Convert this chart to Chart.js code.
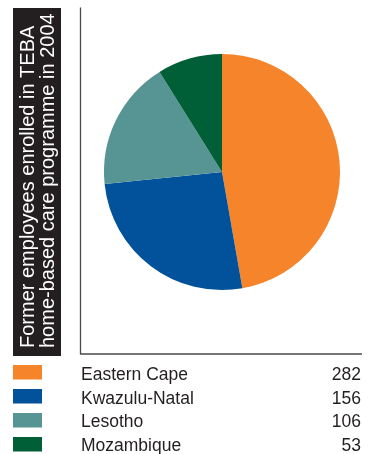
<!DOCTYPE html>
<html>
<head>
<meta charset="utf-8">
<script src="https://cdn.jsdelivr.net/npm/chart.js@4"></script>
<style>
  html, body { margin: 0; padding: 0; background: #fff; }
  #wrap { position: relative; width: 372px; height: 454px; }
</style>
</head>
<body>
<div id="wrap"><canvas id="tebaChart"></canvas></div>
<script>
// TEBA home-based care enrolment, 2004
const regions = ['Eastern Cape', 'Kwazulu-Natal', 'Lesotho', 'Mozambique'];
const enrolled = [282, 156, 106, 53];
const sliceColors = ['#f5842a', '#01529b', '#579494', '#015f38'];
const titleLines = ['Former employees enrolled in TEBA', 'home-based care programme in 2004'];

const FONT = '"Liberation Sans", Arial, Helvetica, sans-serif';

/* ── Title bar, frame lines and value legend ───────────── */
const framePlugin = {
  id: 'frame',
  beforeDraw(chart) {
    const ctx = chart.ctx;
    ctx.save();

    // black bar with rotated title
    ctx.fillStyle = '#231f20';
    ctx.fillRect(13, 8, 48, 348);
    ctx.fillStyle = '#ffffff';
    ctx.font = '20px ' + FONT;
    ctx.textBaseline = 'alphabetic';
    ctx.textAlign = 'left';
    ctx.translate(34, 348);
    ctx.rotate(-Math.PI / 2);
    titleLines.forEach((line, i) => ctx.fillText(line, 0, i * 20));
    ctx.setTransform(1, 0, 0, 1, 0, 0);

    // L-shaped frame round the pie
    ctx.strokeStyle = '#4a4a4a';
    ctx.lineWidth = 1.3;
    ctx.beginPath();
    ctx.moveTo(80.5, 7.5);
    ctx.lineTo(80.5, 354);
    ctx.lineTo(362, 354);
    ctx.stroke();
    ctx.restore();
  },
  afterDraw(chart) {
    const ctx = chart.ctx;
    const ds = chart.data.datasets[0];
    ctx.save();
    ctx.font = '17.5px ' + FONT;
    ctx.textBaseline = 'alphabetic';
    chart.data.labels.forEach((label, i) => {
      const top = 365 + i * 24;
      const base = 380 + i * 23.5;
      ctx.fillStyle = ds.backgroundColor[i];
      ctx.fillRect(13, top, 29, 14.5);
      ctx.fillStyle = '#231f20';
      ctx.textAlign = 'left';
      ctx.fillText(label, 81, base);
      ctx.textAlign = 'right';
      ctx.fillText(String(ds.data[i]), 361, base);
    });
    ctx.restore();
  }
};

new Chart(document.getElementById('tebaChart'), {
  type: 'pie',
  data: {
    labels: regions,
    datasets: [{
      data: enrolled,
      backgroundColor: sliceColors,
      borderWidth: 0,
      hoverOffset: 0,
      offset: 0
    }]
  },
  options: {
    responsive: true,
    maintainAspectRatio: false,
    animation: false,
    events: [],
    radius: 118,
    layout: { padding: { left: 104, right: 32, top: 54, bottom: 164 } },
    plugins: {
      legend: { display: false },
      tooltip: { enabled: false },
      title: { display: false }
    }
  },
  plugins: [framePlugin]
});
</script>
</body>
</html>
